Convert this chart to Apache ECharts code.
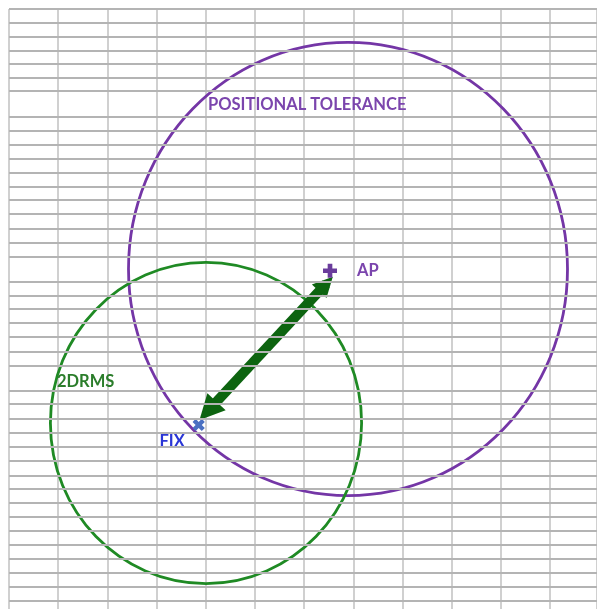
<!DOCTYPE html>
<html>
<head>
<meta charset="utf-8">
<script src="https://cdn.jsdelivr.net/npm/echarts/dist/echarts.min.js"></script>
<style>
    html, body { margin: 0; padding: 0; background: #fff; }
    #plot { width: 597px; height: 609px; }
</style>
</head>
<body>
<div id="plot"></div>
<script>
// worksheet cell borders (sheet units, from the top of the first row)
const colWidth = 49.2;
const rowEdges = [0, 14, 28, 42, 55, 69, 82, 108, 122, 136, 150, 164, 178, 191, 205, 220,
    234, 248, 273, 287, 300, 314, 328, 343, 357, 382, 395, 410, 424, 438, 452, 467, 480,
    494, 508, 522, 536, 550, 564, 578, 592];

// chart values
const circleNames = ['POSITIONAL TOLERANCE', '2DRMS'];
const circleCenters = [[348, 329.4], [206, 180.2]];
const circleRadii = [219.5, 155.6];
const apPoint = [330, 327.7];
const fixPoint = [198.7, 178.3];
const arrowFrom = [208, 191.9];
const arrowTo = [326, 314.9];

const PLOT = function () {
    const font = 'Lato, "Open Sans", sans-serif';

    // label offsets of each circle, in px from its centre
    const labelStyle = [
        { color: '#7b45ad', dx: -140, dy: -164 },
        { color: '#2b7d2b', dx: -149, dy: -41 }
    ];
    const circleColors = ['#7436a6', '#1f8a24'];

    const renderCircle = function (params, api) {
        const c = api.coord([api.value(0), api.value(1)]);
        const s = api.size([api.value(2), api.value(2)]);
        const i = params.dataIndex;
        return {
            type: 'group',
            children: [{
                type: 'ellipse',
                shape: { cx: c[0], cy: c[1], rx: s[0], ry: s[1] },
                style: { fill: 'none', stroke: circleColors[i], lineWidth: 2.8 }
            }, {
                type: 'text',
                x: c[0] + labelStyle[i].dx,
                y: c[1] + labelStyle[i].dy,
                style: {
                    text: circleNames[i],
                    fill: labelStyle[i].color,
                    font: 'bold 16.5px ' + font,
                    verticalAlign: 'middle'
                }
            }]
        };
    }

    const initChart = function () {
        const chart = echarts.init(document.getElementById('plot'));

        chart.setOption({
            animation: false,

            // grid 0: the sheet, grid 1: the chart on top of it
            grid: [
                { left: 9, top: 9, right: 0, bottom: 0 },
                { left: 0, top: 0, right: 0, bottom: 0 }
            ],

            xAxis: [{
                gridIndex: 0,
                type: 'value',
                min: 0,
                max: 588,
                interval: colWidth,
                axisLine: { show: false },
                axisTick: { show: false },
                axisLabel: { show: false },
                splitLine: { show: true, lineStyle: { color: '#d0d0d0', width: 2 } }
            }, {
                gridIndex: 1,
                type: 'value',
                min: 0,
                max: 597,
                show: false
            }],

            yAxis: [{
                gridIndex: 0,
                type: 'value',
                inverse: true,
                min: 0,
                max: 600,
                axisLine: { show: false },
                axisTick: { show: false },
                axisLabel: { show: false },
                splitLine: { show: false }
            }, {
                gridIndex: 1,
                type: 'value',
                min: 0,
                max: 590,
                show: false
            }],

            series: [
                // horizontal cell borders
                {
                    type: 'line',
                    xAxisIndex: 0,
                    yAxisIndex: 0,
                    data: [],
                    silent: true,
                    markLine: {
                        symbol: 'none',
                        silent: true,
                        animation: false,
                        label: { show: false },
                        lineStyle: { color: '#b4b4b4', width: 2, type: 'solid' },
                        data: rowEdges.map(v => ({ yAxis: v }))
                    }
                },
                // circles
                {
                    type: 'custom',
                    xAxisIndex: 1,
                    yAxisIndex: 1,
                    clip: false,
                    silent: true,
                    renderItem: renderCircle,
                    data: circleCenters.map((c, i) => [c[0], c[1], circleRadii[i]])
                },
                // FIX -> AP arrow
                {
                    type: 'lines',
                    coordinateSystem: 'cartesian2d',
                    xAxisIndex: 1,
                    yAxisIndex: 1,
                    silent: true,
                    symbol: ['triangle', 'triangle'],
                    symbolSize: [25, 20],
                    lineStyle: { color: '#0d6410', width: 10, opacity: 1 },
                    data: [{ coords: [arrowFrom, arrowTo] }]
                },
                // AP
                {
                    type: 'scatter',
                    xAxisIndex: 1,
                    yAxisIndex: 1,
                    silent: true,
                    symbol: 'path://M4,0H8V4H12V8H8V12H4V8H0V4H4Z',
                    symbolSize: 14,
                    itemStyle: { color: '#6a3c9c', opacity: 1 },
                    label: {
                        show: true,
                        position: 'right',
                        distance: 20,
                        formatter: 'AP',
                        color: '#7b45ad',
                        fontFamily: font,
                        fontWeight: 'bold',
                        fontSize: 16.5
                    },
                    data: [apPoint]
                },
                // FIX
                {
                    type: 'scatter',
                    xAxisIndex: 1,
                    yAxisIndex: 1,
                    silent: true,
                    symbol: 'path://M4,0H8V4H12V8H8V12H4V8H0V4H4Z',
                    symbolSize: 13,
                    symbolRotate: 45,
                    itemStyle: { color: '#4a70c2', opacity: 1 },
                    label: {
                        show: true,
                        position: [-30, 26],
                        align: 'left',
                        verticalAlign: 'middle',
                        formatter: 'FIX',
                        color: '#2a36d6',
                        fontFamily: font,
                        fontWeight: 'bold',
                        fontSize: 16.5
                    },
                    data: [fixPoint]
                }
            ]
        });
    }

    return {
        initChart
    }
}();

PLOT.initChart();
</script>
</body>
</html>
